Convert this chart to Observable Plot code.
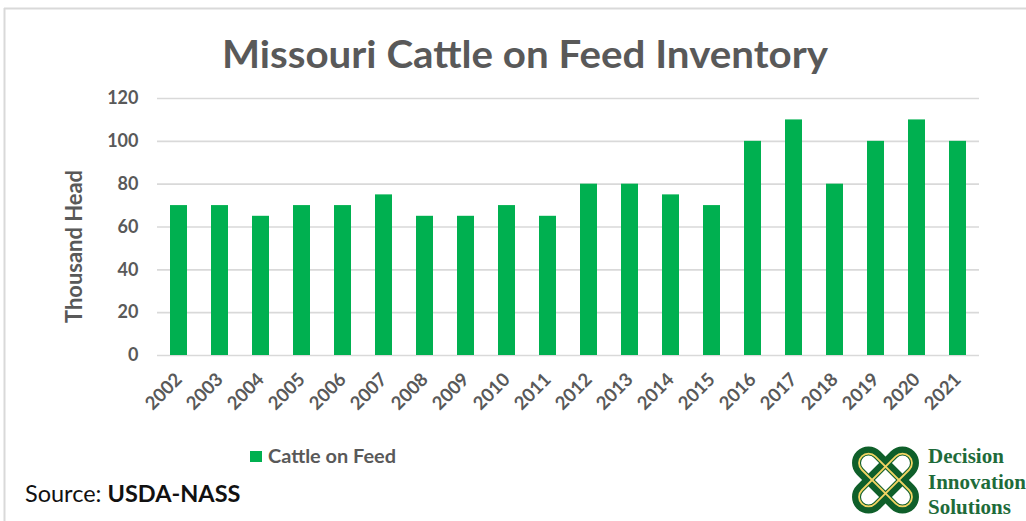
<!DOCTYPE html>
<html>
<head>
<meta charset="utf-8">
<script src="https://cdn.jsdelivr.net/npm/d3@7"></script>
<script src="https://cdn.jsdelivr.net/npm/@observablehq/plot@0.6"></script>
<style>
  html, body { margin: 0; padding: 0; background: #fff; }
  #wrap { position: relative; width: 1026px; height: 521px; overflow: hidden; background: #fff; }
  #chart { position: absolute; left: 0; top: 0; }
  #overlay { position: absolute; left: 0; top: 0; pointer-events: none; }
</style>
</head>
<body>
<div id="wrap">
  <div id="chart"></div>
  <svg id="overlay" width="1026" height="521" xmlns="http://www.w3.org/2000/svg"></svg>
</div>
<script>
const years = ["2002","2003","2004","2005","2006","2007","2008","2009","2010","2011",
               "2012","2013","2014","2015","2016","2017","2018","2019","2020","2021"];
const cattleOnFeed = [70,70,65,70,70,75,65,65,70,65,80,80,75,70,100,110,80,100,110,100];
const yTicks = [0,20,40,60,80,100,120];
const titleText = "Missouri Cattle on Feed Inventory";
const yTitle = "Thousand Head";
const seriesName = "Cattle on Feed";

const data = years.map((y, i) => ({year: y, value: cattleOnFeed[i]}));

const GREEN = "#00b050";
const GRAY = "#595959";

const chart = Plot.plot({
  width: 1026,
  height: 430,
  marginLeft: 157,
  marginRight: 47,
  marginTop: 98,
  marginBottom: 75,
  style: {fontFamily: "Lato, 'Open Sans', sans-serif", fontSize: "18px", fontWeight: "bold", color: GRAY, background: "transparent", overflow: "visible"},
  x: {domain: years, paddingInner: 0.586, paddingOuter: 0.293, label: null},
  y: {domain: [0, 120], label: null},
  marks: [
    Plot.ruleY(yTicks, {stroke: "#d9d9d9", strokeWidth: 1.6}),
    Plot.barY(data, {x: "year", y: "value", fill: GREEN}),
    Plot.axisY(yTicks, {tickSize: 0, tickPadding: 19, fontSize: 18, fontWeight: "bold", fill: GRAY, label: null}),
    Plot.axisX({tickSize: 0, tickRotate: -45, tickPadding: 21, fontSize: 18.5, fontWeight: "bold", fill: GRAY, label: null})
  ]
});
document.getElementById("chart").appendChild(chart);

const svg = d3.select("#overlay");
// frame
svg.append("line").attr("x1", 4).attr("x2", 1026).attr("y1", 8.5).attr("y2", 8.5).attr("stroke", "#d9d9d9").attr("stroke-width", 2);
svg.append("line").attr("x1", 4.5).attr("x2", 4.5).attr("y1", 8).attr("y2", 521).attr("stroke", "#d9d9d9").attr("stroke-width", 2);

// title
svg.append("text").attr("x", 525).attr("y", 68).attr("text-anchor", "middle")
  .attr("font-family", "Lato, sans-serif").attr("font-weight", "bold").attr("font-size", 38)
  .attr("fill", GRAY).attr("textLength", 606).attr("lengthAdjust", "spacingAndGlyphs").text(titleText);

// y title
svg.append("text").attr("transform", "translate(82,246.5) rotate(-90)").attr("text-anchor", "middle")
  .attr("font-family", "Lato, sans-serif").attr("font-weight", "bold").attr("font-size", 22)
  .attr("fill", GRAY).attr("textLength", 153).attr("lengthAdjust", "spacingAndGlyphs").text(yTitle);

// legend
svg.append("rect").attr("x", 250).attr("y", 451).attr("width", 12).attr("height", 11).attr("fill", GREEN);
svg.append("text").attr("x", 268).attr("y", 463)
  .attr("font-family", "Lato, sans-serif").attr("font-weight", "bold").attr("font-size", 19)
  .attr("fill", GRAY).attr("textLength", 128).attr("lengthAdjust", "spacingAndGlyphs").text(seriesName);

// source
const src = svg.append("text").attr("x", 25).attr("y", 502)
  .attr("font-family", "Lato, sans-serif").attr("font-size", 23.5).attr("fill", "#111");
src.append("tspan").text("Source: ");
src.append("tspan").attr("font-weight", "bold").text("USDA-NASS");

// logo
const logo = svg.append("g").attr("transform", "translate(885.5,480)");
[45, -45].forEach(a => {
  logo.append("rect").attr("x", -36).attr("y", -12).attr("width", 72).attr("height", 24).attr("rx", 12)
    .attr("transform", `rotate(${a})`).attr("fill", "none").attr("stroke", "#0f5f2a").attr("stroke-width", 9);
});
[45, -45].forEach(a => {
  logo.append("rect").attr("x", -33.5).attr("y", -9.5).attr("width", 67).attr("height", 19).attr("rx", 9.5)
    .attr("transform", `rotate(${a})`).attr("fill", "none").attr("stroke", "#f3d463").attr("stroke-width", 1.8);
});
const lt = svg.append("g").attr("font-family", "'Liberation Serif', serif").attr("font-weight", "bold")
  .attr("font-size", 21).attr("fill", "#1e6b3a");
lt.append("text").attr("x", 928).attr("y", 463).text("Decision");
lt.append("text").attr("x", 928).attr("y", 488.5).text("Innovation");
lt.append("text").attr("x", 928).attr("y", 513.5).text("Solutions");
</script>
</body>
</html>
